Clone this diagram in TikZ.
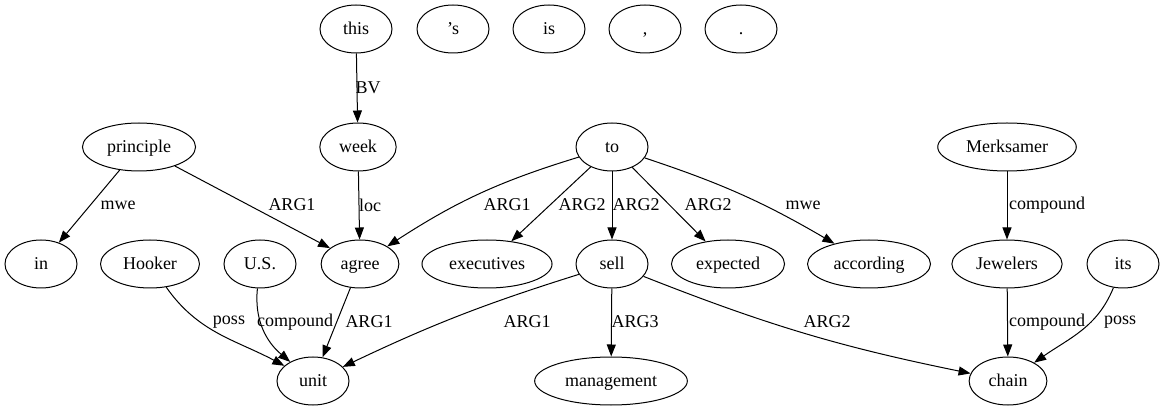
\documentclass[tikz,border=0pt]{standalone}
\usepackage{fontspec}
\setmainfont{Liberation Serif}
\usetikzlibrary{positioning}
\usetikzlibrary{arrows.meta}
\usetikzlibrary{shapes.geometric}

\begin{document}
\begin{tikzpicture}[x=1pt, y=-1pt,
        tok/.style={ellipse, draw=black, line width=1pt, minimum width=72pt, minimum height=48pt, inner xsep=8pt, inner ysep=4pt, text height=13.5pt, text depth=3pt, font=\fontsize{18}{20}\selectfont},
        dep/.style={-{Triangle[length=12pt, width=9pt]}, line width=1pt},
        lbl/.style={inner sep=1pt, font=\fontsize{18}{20}\selectfont}]
        \useasboundingbox (0,0) rectangle (1164,411);

        \node[tok] (this) at (356,29) {this};
        \node[tok] (aps) at (453,29) {’s};
        \node[tok] (is) at (549,29) {is};
        \node[tok] (comma) at (645,29) {,};
        \node[tok] (period) at (741,29) {.};

        \node[tok] (principle) at (139,147) {principle};
        \node[tok] (week) at (358,147) {week};
        \node[tok] (to) at (612,147) {to};
        \node[tok] (Merksamer) at (1007,147) {Merksamer};

        \node[tok] (in) at (41,264) {in};
        \node[tok] (Hooker) at (150,264) {Hooker};
        \node[tok] (US) at (260,264) {U.S.};
        \node[tok] (agree) at (360,264) {agree};
        \node[tok] (executives) at (487,264) {executives};
        \node[tok] (sell) at (612,264) {sell};
        \node[tok] (expected) at (728,264) {expected};
        \node[tok] (according) at (869,264) {according};
        \node[tok] (Jewelers) at (1007,264) {Jewelers};
        \node[tok] (its) at (1123,264) {its};

        \node[tok] (unit) at (313,381) {unit};
        \node[tok] (management) at (611,381) {management};
        \node[tok] (chain) at (1008,381) {chain};

        \draw[dep] (this) -- (week) node[lbl] at (368,88) {BV};
        \draw[dep] (principle) -- (in) node[lbl] at (118,205) {mwe};
        \draw[dep] (principle) -- (agree) node[lbl] at (292,205) {ARG1};
        \draw[dep] (week) -- (agree) node[lbl] at (370,205) {loc};
        \draw[dep] (to) to[bend right=8] (agree) node[lbl] at (507,205) {ARG1};
        \draw[dep] (to) -- (executives) node[lbl] at (582,205) {ARG2};
        \draw[dep] (to) -- (sell) node[lbl] at (636,205) {ARG2};
        \draw[dep] (to) -- (expected) node[lbl] at (708,205) {ARG2};
        \draw[dep] (to) to[bend left=6] (according) node[lbl] at (803,205) {mwe};
        \draw[dep] (Merksamer) -- (Jewelers) node[lbl] at (1047,205) {compound};

        \draw[dep] (Hooker) to[out=-55, in=152] (unit) node[lbl] at (229,322) {poss};
        \draw[dep] (US) to[out=-96, in=140] (unit) node[lbl] at (295,322) {compound};
        \draw[dep] (agree) -- (unit) node[lbl] at (369,322) {ARG1};
        \draw[dep] (sell) to[bend right=4] (unit) node[lbl] at (527,322) {ARG1};
        \draw[dep] (sell) -- (management) node[lbl] at (635,322) {ARG3};
        \draw[dep] (sell) to[bend right=5] (chain) node[lbl] at (827,322) {ARG2};
        \draw[dep] (Jewelers) -- (chain) node[lbl] at (1047,322) {compound};
        \draw[dep] (its) to[out=-112, in=35] (chain) node[lbl] at (1120,322) {poss};
    \end{tikzpicture}
\end{document}
